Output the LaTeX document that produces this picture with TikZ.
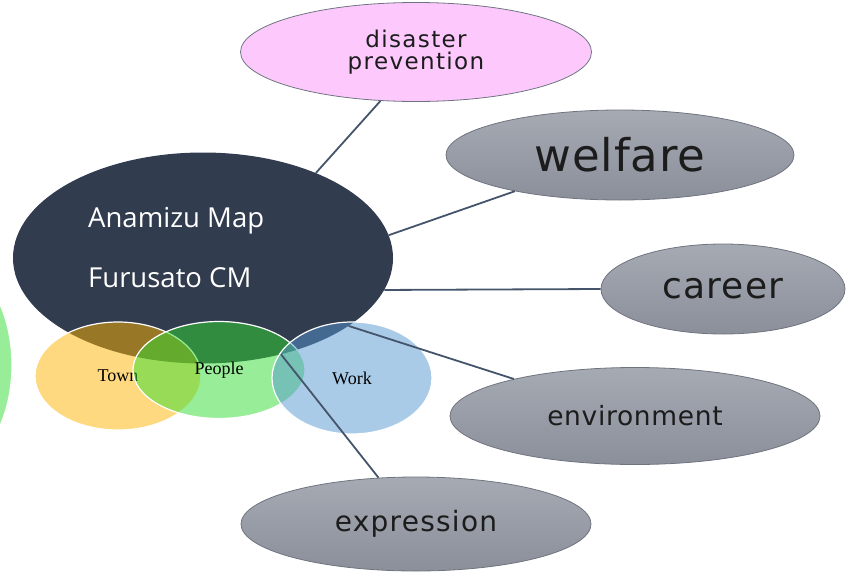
\documentclass[tikz,border=0pt]{standalone}
\usepackage{fontspec}
\usetikzlibrary{shapes.geometric}
\newfontfamily\mainlbl{Open Sans}
\newfontfamily\ovl{DejaVu Sans}
\newfontfamily\vfont{Liberation Serif}
\definecolor{navy}{HTML}{323C4F}
\definecolor{pinkfill}{HTML}{FDC9FD}
\definecolor{graytop}{HTML}{A6AAB3}
\definecolor{graybot}{HTML}{8A8F9A}
\definecolor{edgegray}{HTML}{6F7480}
\definecolor{linkc}{HTML}{44546A}
\definecolor{labeltext}{HTML}{1C1C1C}
\definecolor{townc}{HTML}{FFB300}
\definecolor{peoplec}{HTML}{31DD31}
\definecolor{workc}{HTML}{5597D1}
\begin{document}
\begin{tikzpicture}[x=1pt,y=-1pt,
  bubble/.style={ellipse, inner sep=0pt, draw=edgegray, line width=0.8pt,
    top color=graytop, bottom color=graybot, text=labeltext},
  venn/.style={ellipse, inner sep=0pt, draw=white, line width=1.2pt,
    fill opacity=0.5, text opacity=1, text=black,
    font=\vfont\fontsize{18}{20}\selectfont},
  link/.style={draw=linkc, line width=1.8pt}]
\useasboundingbox (0,0) rectangle (853,573);
% central node
\node[ellipse, fill=navy, inner sep=0pt, minimum width=380pt, minimum height=211pt] (main) at (203,258) {};
\node[anchor=west, inner sep=0pt, align=left, text=white,
  font=\mainlbl\fontsize{27.5}{60}\selectfont] (maintext) at (88,248) {Anamizu Map\\Furusato CM};
% venn circles
\node[venn, fill=peoplec, minimum width=144pt, minimum height=220pt] (leftg) at (-60,365) {};
\node[venn, fill=townc, minimum width=166pt, minimum height=108pt] (town) at (118,376) {Town};
\node[venn, fill=peoplec, minimum width=172pt, minimum height=97pt] (people) at (219,370) {People};
\node[venn, fill=workc, minimum width=160pt, minimum height=112pt] (work) at (352,378) {Work};
% outer topics
\node[ellipse, inner sep=0pt, draw=edgegray, line width=0.8pt, fill=pinkfill, text=labeltext,
  minimum width=351pt, minimum height=99pt, align=center,
  font=\ovl\fontsize{23}{22}\selectfont\addfontfeature{LetterSpace=6}] (dis) at (416,52) {disaster\\prevention};
\node[bubble, minimum width=348pt, minimum height=90pt,
  font=\ovl\fontsize{45}{48}\selectfont\addfontfeature{LetterSpace=2}] (wel) at (620,155) {welfare};
\node[bubble, minimum width=244pt, minimum height=90pt,
  font=\ovl\fontsize{36}{40}\selectfont\addfontfeature{LetterSpace=3}] (car) at (723,289) {career};
\node[bubble, minimum width=370pt, minimum height=97pt,
  font=\ovl\fontsize{26.5}{30}\selectfont\addfontfeature{LetterSpace=2.5}] (env) at (635,416) {environment};
\node[bubble, minimum width=350pt, minimum height=94pt,
  font=\ovl\fontsize{28}{30}\selectfont\addfontfeature{LetterSpace=4.5}] (exp) at (416,524) {expression};
% connectors
\draw[link] (main.37.5) -- (dis.234);
\draw[link] (main.7) -- (wel.199);
\draw[link] (main.-10) -- (car.180);
\draw[link] (main.-25) -- (env.163);
\draw[link] (main.-51) -- (exp.129);
\end{tikzpicture}
\end{document}
